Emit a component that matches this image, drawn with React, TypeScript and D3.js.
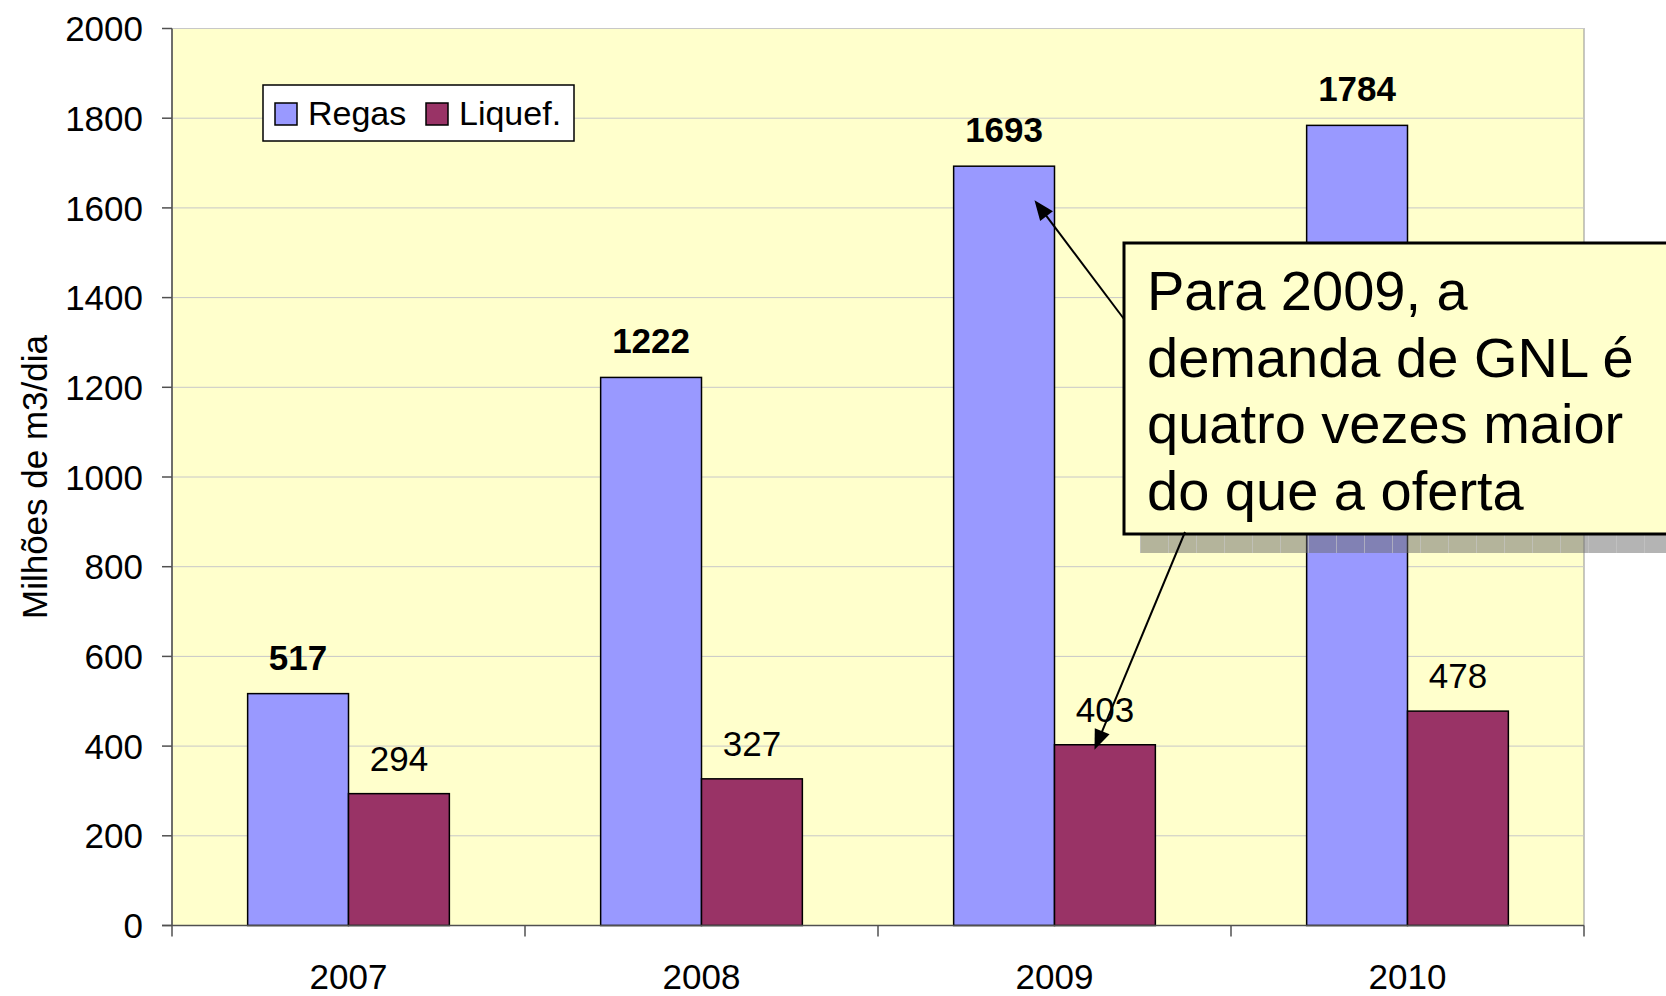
import React from "react";
import * as d3 from "d3";

const years = ["2007", "2008", "2009", "2010"];
const regas = [517, 1222, 1693, 1784];
const liquef = [294, 327, 403, 478];
const seriesNames = ["Regas", "Liquef."];
const seriesColors = ["#9999FF", "#993366"];
const yTicks = [0, 200, 400, 600, 800, 1000, 1200, 1400, 1600, 1800, 2000];
const calloutLines = ["Para 2009, a", "demanda de GNL é", "quatro vezes maior", "do que a oferta"];

const W = 1666;
const H = 996;
const FONT = "'Liberation Sans', Arial, sans-serif";

export default function App() {
  const left = 172, right = 1584, top = 28.5, bottom = 925.5;
  const x0 = d3.scaleBand<string>().domain(years).range([left, right]).paddingInner(0).paddingOuter(0);
  const x1 = d3.scaleBand<string>().domain(seriesNames).range([0, x0.bandwidth()]).paddingInner(0).paddingOuter(0.75);
  const y = d3.scaleLinear().domain([0, 2000]).range([bottom, top]);
  const data = [regas, liquef];

  // annotation anchors derived from the 2009 bars
  const i09 = years.indexOf("2009");
  const regasRight = x0(years[i09])! + x1("Regas")! + x1.bandwidth();
  const liqLeft = x0(years[i09])! + x1("Liquef.")!;
  const tip1 = { x: regasRight - 20, y: y(regas[i09]) + 34 };
  const tip2 = { x: liqLeft + 40, y: y(liquef[i09]) + 5 };
  const start1 = { x: 1124, y: 319 };
  const start2 = { x: 1185, y: 532 };

  const arrowHead = (from: { x: number; y: number }, to: { x: number; y: number }) => {
    const ang = Math.atan2(to.y - from.y, to.x - from.x);
    const len = 20, wid = 8;
    const bx = to.x - len * Math.cos(ang), by = to.y - len * Math.sin(ang);
    const p1 = [bx + wid * Math.sin(ang), by - wid * Math.cos(ang)];
    const p2 = [bx - wid * Math.sin(ang), by + wid * Math.cos(ang)];
    return `M${to.x},${to.y}L${p1[0]},${p1[1]}L${p2[0]},${p2[1]}Z`;
  };
  const lineEnd = (from: { x: number; y: number }, to: { x: number; y: number }) => {
    const ang = Math.atan2(to.y - from.y, to.x - from.x);
    return { x: to.x - 15 * Math.cos(ang), y: to.y - 15 * Math.sin(ang) };
  };
  const e1 = lineEnd(start1, tip1);
  const e2 = lineEnd(start2, tip2);

  const boxX = 1124, boxY = 243, boxW = 600, boxH = 291;

  return (
    <div style={{ position: "fixed", left: 0, top: 0 }}>
      <svg width={W} height={H} style={{ display: "block", fontFamily: FONT }}>
        <defs>
          <pattern id="shadowPat" width={28} height={40} patternUnits="userSpaceOnUse" x={1140}>
            <rect width={28} height={40} fill="rgba(105,105,105,0.5)" />
            <line x1={0.5} y1={0} x2={0.5} y2={40} stroke="rgba(200,200,200,0.6)" strokeWidth={1} />
          </pattern>
        </defs>
        <rect x={0} y={0} width={W} height={H} fill="#ffffff" />
        <rect x={left} y={top} width={right - left} height={bottom - top} fill="#FFFFCC" stroke="#909090" strokeWidth={1} />
        {yTicks.map((t) => (
          <line key={"g" + t} x1={left} x2={right} y1={y(t)} y2={y(t)} stroke="#c8c8c8" strokeWidth={1} />
        ))}
        {/* bars */}
        {years.map((yr, i) => (
          <g key={yr}>
            {seriesNames.map((s, j) => {
              const bx = x0(yr)! + x1(s)!;
              const v = data[j][i];
              return (
                <g key={s}>
                  <rect x={bx} y={y(v)} width={x1.bandwidth()} height={bottom - y(v)} fill={seriesColors[j]} stroke="#000" strokeWidth={1.5} />
                  <text x={bx + x1.bandwidth() / 2} y={y(v) - (j === 0 ? 24 : 23)} textAnchor="middle" fontSize={35} fontWeight={j === 0 ? "bold" : "normal"} fill="#000">
                    {v}
                  </text>
                </g>
              );
            })}
          </g>
        ))}
        {/* axes */}
        <line x1={left} x2={left} y1={top} y2={bottom} stroke="#505050" strokeWidth={1.5} />
        <line x1={left - 10} x2={right} y1={bottom} y2={bottom} stroke="#505050" strokeWidth={1.5} />
        {yTicks.map((t) => (
          <g key={"t" + t}>
            <line x1={left - 10} x2={left} y1={y(t)} y2={y(t)} stroke="#505050" strokeWidth={1.5} />
            <text x={143} y={y(t)} dy="0.36em" textAnchor="end" fontSize={35} fill="#000">{t}</text>
          </g>
        ))}
        {[...years.map((yr) => x0(yr)!), right].map((xv, i) => (
          <line key={"xt" + i} x1={xv} x2={xv} y1={bottom} y2={bottom + 11} stroke="#505050" strokeWidth={1.5} />
        ))}
        {years.map((yr) => (
          <text key={"xl" + yr} x={x0(yr)! + x0.bandwidth() / 2} y={989} textAnchor="middle" fontSize={35} fill="#000">{yr}</text>
        ))}
        <text transform={`translate(47,${(top + bottom) / 2}) rotate(-90)`} textAnchor="middle" fontSize={35} fill="#000">Milhões de m3/dia</text>
        {/* legend */}
        <rect x={263} y={85} width={311} height={56} fill="#ffffff" stroke="#000" strokeWidth={1.5} />
        <rect x={275} y={103} width={22} height={22} fill={seriesColors[0]} stroke="#000" strokeWidth={1.5} />
        <text x={308} y={125} fontSize={34} fill="#000">{seriesNames[0]}</text>
        <rect x={426} y={103} width={22} height={22} fill={seriesColors[1]} stroke="#000" strokeWidth={1.5} />
        <text x={459} y={125} fontSize={34} fill="#000">{seriesNames[1]}</text>
        {/* callout */}
        <rect x={boxX + 16} y={boxY + 19} width={boxW} height={boxH} fill="url(#shadowPat)" />
        <rect x={boxX} y={boxY} width={boxW} height={boxH} fill="#FFFFCC" stroke="#000" strokeWidth={3} />
        {calloutLines.map((l, i) => (
          <text key={i} x={1147} y={310 + i * 66.7} fontSize={56} fill="#000">{l}</text>
        ))}
        <line x1={start1.x} y1={start1.y} x2={e1.x} y2={e1.y} stroke="#000" strokeWidth={2} />
        <path d={arrowHead(start1, tip1)} fill="#000" />
        <line x1={start2.x} y1={start2.y} x2={e2.x} y2={e2.y} stroke="#000" strokeWidth={2} />
        <path d={arrowHead(start2, tip2)} fill="#000" />
      </svg>
    </div>
  );
}
